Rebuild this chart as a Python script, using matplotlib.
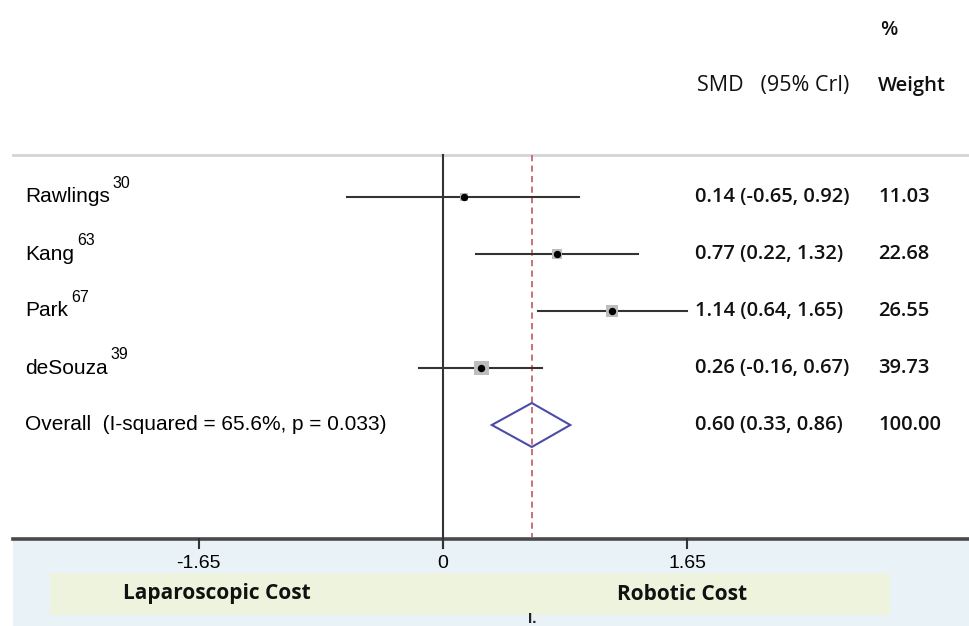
import numpy as np
import matplotlib.pyplot as plt
import matplotlib.transforms as mtransforms
from matplotlib.patches import Polygon, Rectangle

# ------------------------------------
# DATA
# ------------------------------------
studies = ['Rawlings', 'Kang', 'Park', 'deSouza']
refs = ['30', '63', '67', '39']
smd = [0.14, 0.77, 1.14, 0.26]
ci_low = [-0.65, 0.22, 0.64, -0.16]
ci_high = [0.92, 1.32, 1.65, 0.67]
weights = [11.03, 22.68, 26.55, 39.73]

overall_label = 'Overall  (I-squared = 65.6%, p = 0.033)'
overall_smd = 0.60
overall_low = 0.33
overall_high = 0.86
overall_weight = 100.00

xticks = [-1.65, 0, 1.65]
xtick_labels = ['-1.65', '0', '1.65']
side_labels = ['Laparoscopic Cost', 'Robotic Cost']

# ------------------------------------
# LAYOUT (pixel frame of the 970x626 picture)
# ------------------------------------
W, H = 970, 626
X0_PX, UNIT_PX = 443, 148      # x position of 0 and pixels per SMD unit
ROW0, ROW_STEP = 197, 57       # first row and row pitch
TOP_LINE, AXIS_LINE = 155, 539

fig = plt.figure(figsize=(9.7, 6.26), dpi=100)
ax = fig.add_axes([0, 0, 1, 1])
ax.set_xlim(-X0_PX / UNIT_PX, (W - X0_PX) / UNIT_PX)
ax.set_ylim(H, 0)
ax.axis('off')
trans = mtransforms.blended_transform_factory(ax.transAxes, ax.transData)

lab_font = dict(family=['Liberation Sans', 'DejaVu Sans'], fontsize=15, color='black')
num_font = dict(family=['Open Sans', 'DejaVu Sans'], fontsize=14.5, color='#111111')

# --- background bands ---
ax.add_patch(Rectangle((13 / W, AXIS_LINE + 1), 1 - 13 / W, H - AXIS_LINE, transform=trans,
                       facecolor='#e9f2f6', edgecolor='none', zorder=0))
ax.add_patch(Rectangle((50 / W, 573), 840 / W, 42, transform=trans,
                       facecolor='#edf3dc', edgecolor='none', zorder=1))

# --- separator and axis line ---
ax.plot([13 / W, 1], [TOP_LINE, TOP_LINE], transform=trans, color='#d4d4d4', lw=2, zorder=2)
ax.plot([13 / W, 1], [AXIS_LINE, AXIS_LINE], transform=trans, color='#4a4a4a', lw=2.6, zorder=3)

# --- null line and overall line ---
ax.plot([0, 0], [TOP_LINE, AXIS_LINE + 9], color='#333333', lw=1.5, zorder=3)
ax.plot([overall_smd, overall_smd], [TOP_LINE, AXIS_LINE - 2], color='#c8727c', lw=1.4,
        dashes=(3.2, 2.2), zorder=3)

# --- ticks ---
for t, lab in zip(xticks, xtick_labels):
    ax.plot([t, t], [AXIS_LINE, AXIS_LINE + 9], color='#333333', lw=1.5, zorder=3)
    ax.text(t, 563, lab, ha='center', va='center', **dict(lab_font, fontsize=14))

# --- study rows ---
for i, (name, ref) in enumerate(zip(studies, refs)):
    y = ROW0 + i * ROW_STEP
    ax.plot([ci_low[i], ci_high[i]], [y, y], color='#333333', lw=1.5, zorder=4)
    ax.scatter(smd[i], y, marker='s', s=2.7 * weights[i], color='#bdbdbd', edgecolor='none', zorder=5)
    ax.plot(smd[i], y, marker='o', markersize=4.3, color='black', zorder=6)

    t = ax.text(25 / W, y, name, transform=trans, ha='left', va='center', **lab_font)
    ax.annotate(ref, xy=(1, 0.8), xycoords=t, xytext=(2, 0), textcoords='offset points',
                ha='left', va='bottom', family=['Liberation Sans Narrow', 'Liberation Sans', 'DejaVu Sans'],
                fontsize=11.5)

    ax.text(695 / W, y, '%.2f (%.2f, %.2f)' % (smd[i], ci_low[i], ci_high[i]), transform=trans,
            ha='left', va='center', fontweight='semibold', **num_font)
    ax.text(878 / W, y, '%.2f' % weights[i], transform=trans, ha='left', va='center',
            fontweight='semibold', **num_font)

# --- overall row ---
y = ROW0 + len(studies) * ROW_STEP
diamond = np.array([[overall_low, y], [overall_smd, y - 22], [overall_high, y], [overall_smd, y + 22]])
ax.add_patch(Polygon(diamond, closed=True, fill=False, edgecolor='#4c4ca6', lw=1.5, zorder=4))
ax.text(25 / W, y, overall_label, transform=trans, ha='left', va='center', **lab_font)
ax.text(695 / W, y, '%.2f (%.2f, %.2f)' % (overall_smd, overall_low, overall_high), transform=trans,
        ha='left', va='center', fontweight='semibold', **num_font)
ax.text(878 / W, y, '%.2f' % overall_weight, transform=trans, ha='left', va='center',
        fontweight='semibold', **num_font)

# --- column headers ---
ax.text(697 / W, 86, 'SMD   (95% Crl)', transform=trans, ha='left', va='center', **dict(num_font, fontsize=15.5))
ax.text(878 / W, 86, 'Weight', transform=trans, ha='left', va='center', fontweight='semibold', **num_font)
ax.text(880 / W, 30, '%', transform=trans, ha='left', va='center', fontweight='semibold', **num_font)

# --- side labels ---
side_font = dict(family=['Open Sans', 'DejaVu Sans'], fontsize=15, fontweight='bold', color='#111111')
ax.text(217 / W, 594, side_labels[0], transform=trans, ha='center', va='center', **side_font)
ax.text(682 / W, 594, side_labels[1], transform=trans, ha='center', va='center', **side_font)
ax.text(overall_smd, 619, 'I.', ha='center', va='center', fontsize=11, fontweight='bold',
        family=['Liberation Sans', 'DejaVu Sans'], color='#222222')

fig.savefig('out.png', dpi=100, facecolor='white')
